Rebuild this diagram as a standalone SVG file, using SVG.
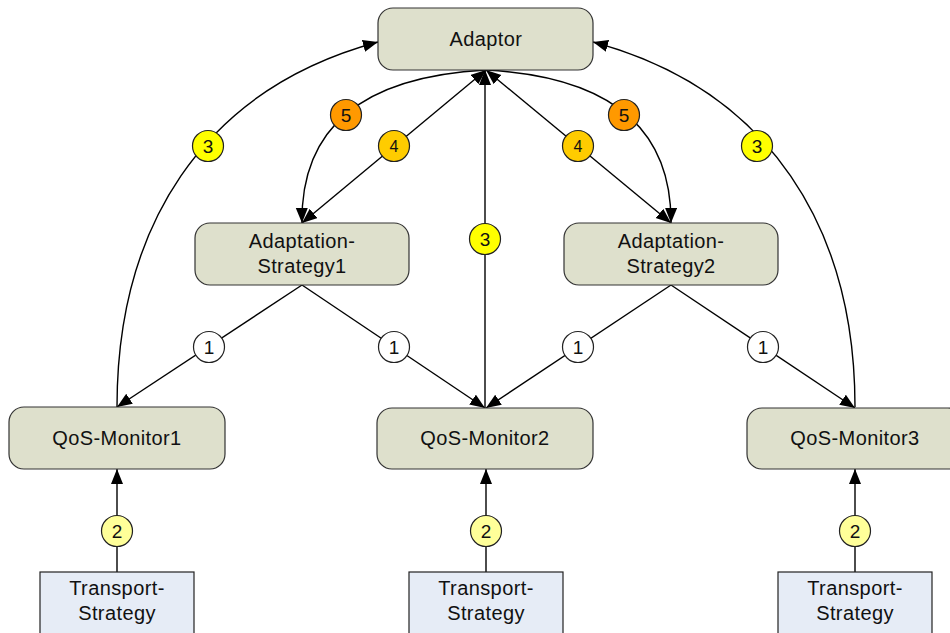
<svg xmlns="http://www.w3.org/2000/svg" width="950" height="633" viewBox="0 0 950 633">
  <defs>
    <style>
      .node { fill: #dee0cc; stroke: #333333; stroke-width: 1.2; }
      .tbox { fill: #e6ecf6; stroke: #222222; stroke-width: 1.2; }
      .lbl { font-family: "Liberation Sans", Arial, sans-serif; font-size: 20px; letter-spacing: 0.4px; fill: #111111; text-anchor: middle; }
      .num { font-family: "Liberation Sans", Arial, sans-serif; font-size: 19px; fill: #111111; text-anchor: middle; dominant-baseline: central; }
      .edge { fill: none; stroke: #000000; stroke-width: 1.4; }
      .badge { stroke: #222222; stroke-width: 1.2; }
      .b1 { fill: #ffffff; }
      .b2 { fill: #ffff99; }
      .b3 { fill: #ffff00; }
      .b4 { fill: #ffcc00; }
      .b5 { fill: #ff9900; }
    </style>
    <marker id="arrow" markerUnits="userSpaceOnUse" markerWidth="16" markerHeight="13" refX="15" refY="6" orient="auto-start-reverse">
      <path d="M0,0 L15,6 L0,12 z" fill="#000000"/>
    </marker>
  </defs>
  <rect width="950" height="633" fill="#ffffff"/>

  <!-- connectors -->
  <g id="connectors">
    <!-- 3: monitors report to the adaptor -->
    <path class="edge" d="M117,407 C117,230 200,90 378,42" marker-end="url(#arrow)"/>
    <path class="edge" d="M855,407 C855,230 771,90 593,42" marker-end="url(#arrow)"/>
    <path class="edge" d="M485,408 L485,70" marker-end="url(#arrow)"/>
    <!-- 4: adaptor and strategies, both directions -->
    <path class="edge" d="M302,223 L486,70" marker-start="url(#arrow)" marker-end="url(#arrow)"/>
    <path class="edge" d="M671,223 L486,70" marker-start="url(#arrow)" marker-end="url(#arrow)"/>
    <!-- 5: adaptor selects strategies -->
    <path class="edge" d="M486,70 Q300,80 302,223" marker-end="url(#arrow)"/>
    <path class="edge" d="M486,70 Q672,80 671,223" marker-end="url(#arrow)"/>
    <!-- 1: strategies to monitors -->
    <path class="edge" d="M302,285 L117,407" marker-end="url(#arrow)"/>
    <path class="edge" d="M302,285 L485,408" marker-end="url(#arrow)"/>
    <path class="edge" d="M671,285 L486,408" marker-end="url(#arrow)"/>
    <path class="edge" d="M671,285 L855,408" marker-end="url(#arrow)"/>
    <!-- 2: transport strategies to monitors -->
    <path class="edge" d="M117,572 L117,469" marker-end="url(#arrow)"/>
    <path class="edge" d="M486,572 L486,469" marker-end="url(#arrow)"/>
    <path class="edge" d="M855,572 L855,469" marker-end="url(#arrow)"/>

    <!-- numbered badges -->
    <g class="badge">
      <circle class="b3" cx="208" cy="146" r="15.5"/>
      <circle class="b3" cx="757" cy="146" r="15.5"/>
      <circle class="b3" cx="485" cy="239" r="15.5"/>
      <circle class="b4" cx="394" cy="146" r="15.5"/>
      <circle class="b4" cx="578" cy="146" r="15.5"/>
      <circle class="b5" cx="346" cy="115" r="15.5"/>
      <circle class="b5" cx="624" cy="115" r="15.5"/>
      <circle class="b1" cx="209" cy="347" r="15.5"/>
      <circle class="b1" cx="394" cy="347" r="15.5"/>
      <circle class="b1" cx="578" cy="347" r="15.5"/>
      <circle class="b1" cx="763" cy="347" r="15.5"/>
      <circle class="b2" cx="117" cy="531" r="15.5"/>
      <circle class="b2" cx="486" cy="531" r="15.5"/>
      <circle class="b2" cx="855" cy="531" r="15.5"/>
    </g>
    <g>
      <text class="num" x="208" y="146">3</text>
      <text class="num" x="757" y="146">3</text>
      <text class="num" x="485" y="239">3</text>
      <text class="num" x="394" y="146" style="font-size:16px">4</text>
      <text class="num" x="578" y="146" style="font-size:16px">4</text>
      <text class="num" x="346" y="115">5</text>
      <text class="num" x="624" y="115">5</text>
      <text class="num" x="209" y="347">1</text>
      <text class="num" x="394" y="347">1</text>
      <text class="num" x="578" y="347">1</text>
      <text class="num" x="763" y="347">1</text>
      <text class="num" x="117" y="531">2</text>
      <text class="num" x="486" y="531">2</text>
      <text class="num" x="855" y="531">2</text>
    </g>
  </g>

  <g id="adaptor">
    <rect class="node" x="378" y="8" width="215" height="62" rx="15"/>
    <text class="lbl" x="486" y="46">Adaptor</text>
  </g>

  <g id="adaptation-strategy1">
    <rect class="node" x="195" y="223" width="214" height="62" rx="15"/>
    <text class="lbl" x="302" y="248">Adaptation-</text>
    <text class="lbl" x="302" y="273">Strategy1</text>
  </g>

  <g id="adaptation-strategy2">
    <rect class="node" x="564" y="223" width="214" height="62" rx="15"/>
    <text class="lbl" x="671" y="248">Adaptation-</text>
    <text class="lbl" x="671" y="273">Strategy2</text>
  </g>

  <g id="qos-monitor1">
    <rect class="node" x="9" y="407" width="216" height="62" rx="15"/>
    <text class="lbl" x="117" y="445">QoS-Monitor1</text>
  </g>

  <g id="qos-monitor2">
    <rect class="node" x="377" y="408" width="216" height="61" rx="15"/>
    <text class="lbl" x="485" y="445">QoS-Monitor2</text>
  </g>

  <g id="qos-monitor3">
    <rect class="node" x="747" y="408" width="216" height="61" rx="15"/>
    <text class="lbl" x="855" y="445">QoS-Monitor3</text>
  </g>

  <g id="transport-strategy1">
    <rect class="tbox" x="40" y="572" width="154" height="70"/>
    <text class="lbl" x="117" y="595">Transport-</text>
    <text class="lbl" x="117" y="620">Strategy</text>
  </g>

  <g id="transport-strategy2">
    <rect class="tbox" x="409" y="572" width="154" height="70"/>
    <text class="lbl" x="486" y="595">Transport-</text>
    <text class="lbl" x="486" y="620">Strategy</text>
  </g>

  <g id="transport-strategy3">
    <rect class="tbox" x="778" y="572" width="154" height="70"/>
    <text class="lbl" x="855" y="595">Transport-</text>
    <text class="lbl" x="855" y="620">Strategy</text>
  </g>
</svg>
